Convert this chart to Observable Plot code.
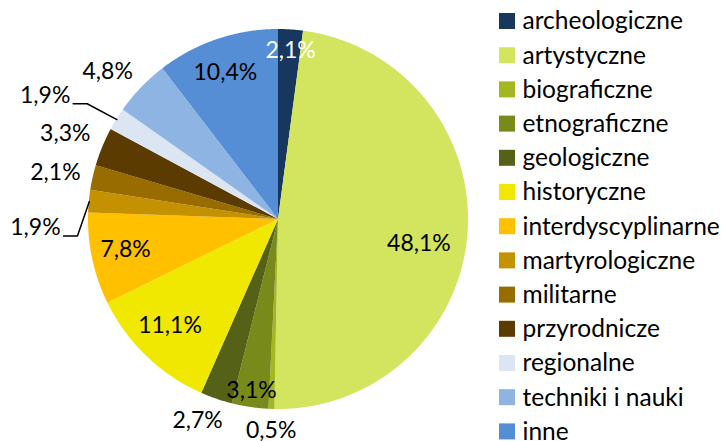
<!DOCTYPE html>
<html><head><meta charset="utf-8">
<script src="https://cdn.jsdelivr.net/npm/d3@7"></script>
<script src="https://cdn.jsdelivr.net/npm/@observablehq/plot@0.6"></script>
<style>html,body{margin:0;padding:0;background:#fff}svg{display:block}</style>
</head><body><div id="chart"></div>
<script>
// ---- data ----
const categories = ["archeologiczne","artystyczne","biograficzne","etnograficzne","geologiczne","historyczne","interdyscyplinarne","martyrologiczne","militarne","przyrodnicze","regionalne","techniki i nauki","inne"];
const values = [2.1, 48.1, 0.5, 3.1, 2.7, 11.1, 7.8, 1.9, 2.1, 3.3, 1.9, 4.8, 10.4];
const colors = ["#17375E","#D3E45F","#A4B620","#788A1A","#556117","#F0E800","#FFC000","#C49100","#996C00","#5B3B00","#DCE6F2","#8DB4E2","#558ED5"];

// ---- layout ----
const W = 721, H = 441, cx = 278, cy = 219, R = 190;
const FONT = "Lato, 'Open Sans', sans-serif";
const FS = 23, LFS = 24.5;
// label placement: [radius factor, angle shift in degrees, leader?]
const labelLayout = {
  "archeologiczne": [0.89, 0.3], "artystyczne": [0.75, 5.4], "biograficzne": [1.11, 0],
  "etnograficzne": [0.91, 0.5], "geologiczne": [1.14, 3], "historyczne": [0.8, 1.7],
  "interdyscyplinarne": [0.82, 1], "martyrologiczne": [1.28, -7.4, true], "militarne": [1.2, -0.7],
  "przyrodnicze": [1.21, -0.4], "regionalne": [1.39, -3.8, true], "techniki i nauki": [1.19, -2.9],
  "inne": [0.82, -1.2]
};

const data = categories.map((c, i) => ({cat: c, value: values[i], label: values[i].toFixed(1).replace(".", ",") + "%"}));
const arcs = d3.pie().sort(null).value(d => d.value)(data);

const pt = (a, r) => [cx + r * Math.sin(a), cy - r * Math.cos(a)];

const wedge = [];
arcs.forEach(p => {
  const n = Math.max(2, Math.ceil((p.endAngle - p.startAngle) / (Math.PI / 720)));
  for (let i = 0; i <= n; i++) {
    const a = p.startAngle + (p.endAngle - p.startAngle) * i / n;
    const [x, y] = pt(a, R);
    wedge.push({cat: p.data.cat, x, y, x0: cx, y0: cy});
  }
});

const labelPts = arcs.map(p => {
  const [f, da, leader] = labelLayout[p.data.cat];
  const mid = (p.startAngle + p.endAngle) / 2;
  const [x, y] = pt(mid + da * Math.PI / 180, R * f);
  return {cat: p.data.cat, label: p.data.label, x, y, leader: !!leader, mid, white: p.data.cat === "archeologiczne"};
});

const leaders = [];
labelPts.filter(d => d.leader).forEach(d => {
  const [ex, ey] = pt(d.mid, R);
  const sx = d.x + 28, sy = d.y + 8;
  leaders.push({cat: d.cat, x: sx, y: sy}, {cat: d.cat, x: sx + 14, y: sy}, {cat: d.cat, x: ex, y: ey});
});

const legend = categories.map((c, i) => ({cat: c, i, y: 21 + i * 34.2}));

const chart = Plot.plot({
  width: W, height: H,
  margin: 0,
  x: {type: "identity", axis: null},
  y: {type: "identity", axis: null},
  color: {domain: categories, range: colors},
  style: {fontFamily: FONT, background: "#fff"},
  marks: [
    Plot.area(wedge, {x1: "x0", y1: "y0", x2: "x", y2: "y", z: "cat", fill: "cat", curve: "linear"}),
    Plot.line(leaders, {x: "x", y: "y", z: "cat", stroke: "#000", strokeWidth: 1.5}),
    Plot.text(labelPts.filter(d => !d.white), {x: "x", y: "y", text: "label", fill: "#000", fontSize: FS, fontFamily: FONT}),
    Plot.text(labelPts.filter(d => d.white), {x: "x", y: "y", text: "label", fill: "#fff", fontSize: FS, fontFamily: FONT}),
    Plot.rect(legend, {x1: 499, x2: 515, y1: d => d.y - 8, y2: d => d.y + 8, fill: "cat"}),
    Plot.text(legend, {x: 522, y: "y", text: "cat", textAnchor: "start", fill: "#000", fontSize: LFS, fontFamily: FONT})
  ]
});
document.getElementById("chart").appendChild(chart);
</script>
</body></html>
